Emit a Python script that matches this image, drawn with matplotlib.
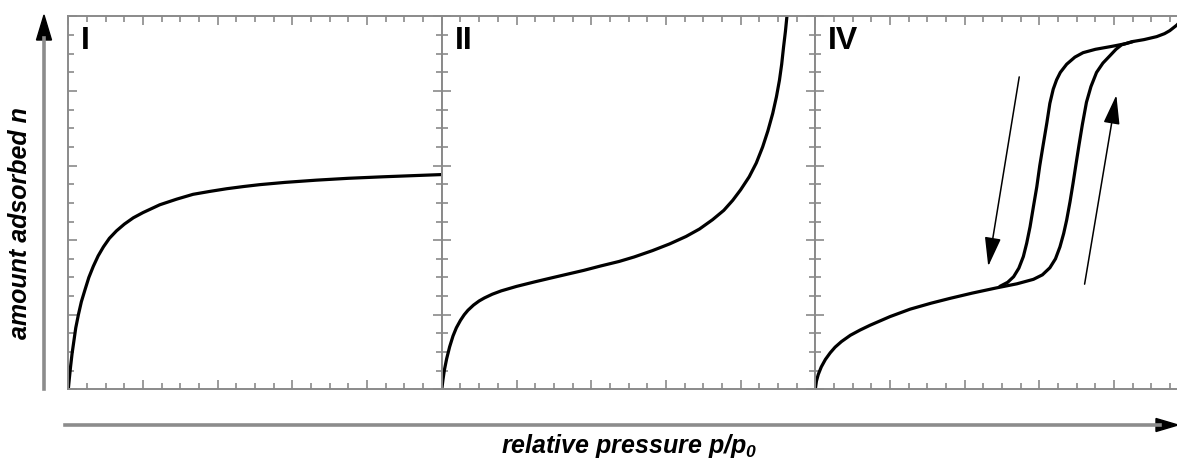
"""
Adsorption isotherm types I, II and IV, drawn side by side as three
framed panels sharing one big pressure arrow and one big amount arrow.
"""

import matplotlib.pyplot as plt
from matplotlib.lines import Line2D
from matplotlib.patches import Polygon
from matplotlib.ticker import MultipleLocator

plt.rcParams["font.family"] = ["Liberation Sans", "DejaVu Sans"]
plt.rcParams["mathtext.fontset"] = "custom"
plt.rcParams["mathtext.it"] = "Liberation Sans:bold:italic"
plt.rcParams["mathtext.rm"] = "Liberation Sans:bold:italic"
plt.rcParams["mathtext.bf"] = "Liberation Sans:bold:italic"

W, H = 1177, 461
C_FRAME = "#8a8a8a"
C_CURVE = "black"

# ---- data (p/p0, n scaled 0..1) ----
panel_names = ["I", "II", "IV"]

type1_p = [0.0, 0.003, 0.006, 0.010, 0.015, 0.020, 0.027, 0.035, 0.045,
           0.055, 0.067, 0.080, 0.094, 0.110, 0.129, 0.150, 0.174, 0.200,
           0.245, 0.290, 0.334, 0.380, 0.424, 0.470, 0.513, 0.580, 0.664,
           0.750, 0.842, 0.920, 1.0]
type1_n = [0.0, 0.031, 0.060, 0.095, 0.130, 0.165, 0.200, 0.235, 0.268,
           0.300, 0.330, 0.358, 0.382, 0.405, 0.425, 0.443, 0.460, 0.474,
           0.495, 0.510, 0.523, 0.531, 0.538, 0.544, 0.549, 0.555, 0.561,
           0.566, 0.570, 0.573, 0.576]

type2_p = [0.0, 0.003, 0.007, 0.013, 0.021, 0.030, 0.039, 0.050, 0.060,
           0.070, 0.085, 0.100, 0.114, 0.135, 0.159, 0.200, 0.248, 0.290,
           0.337, 0.380, 0.426, 0.475, 0.515, 0.564, 0.610, 0.654, 0.690,
           0.725, 0.755, 0.779, 0.800, 0.823, 0.842, 0.859, 0.873, 0.886,
           0.896, 0.904, 0.910, 0.915, 0.920, 0.924, 0.928]
type2_n = [0.0, 0.025, 0.052, 0.082, 0.114, 0.143, 0.165, 0.185, 0.200,
           0.212, 0.226, 0.237, 0.245, 0.255, 0.264, 0.276, 0.288, 0.298,
           0.309, 0.319, 0.331, 0.343, 0.355, 0.372, 0.390, 0.410, 0.430,
           0.455, 0.480, 0.507, 0.535, 0.570, 0.607, 0.650, 0.693, 0.740,
           0.785, 0.829, 0.872, 0.918, 0.960, 1.0, 1.04]

# type IV: adsorption branch (whole run, low to high pressure)
ads_p = [0.0, 0.003, 0.008, 0.016, 0.027, 0.040, 0.053, 0.070, 0.094,
         0.120, 0.147, 0.200, 0.254, 0.310, 0.361, 0.420, 0.485, 0.540,
         0.584, 0.608, 0.628, 0.643, 0.655, 0.665, 0.673, 0.682, 0.690,
         0.698, 0.706, 0.715, 0.726, 0.738, 0.753, 0.770, 0.789, 0.805,
         0.820, 0.851, 0.880, 0.914, 0.935, 0.949, 0.968, 0.985, 1.0]
ads_n = [0.0, 0.022, 0.040, 0.060, 0.080, 0.098, 0.113, 0.128, 0.145,
         0.159, 0.172, 0.195, 0.215, 0.231, 0.244, 0.258, 0.272, 0.283,
         0.295, 0.307, 0.326, 0.350, 0.382, 0.418, 0.454, 0.503, 0.552,
         0.604, 0.655, 0.710, 0.770, 0.812, 0.850, 0.875, 0.895, 0.912,
         0.924, 0.933, 0.938, 0.946, 0.954, 0.962, 0.977, 0.995, 1.02]
# type IV: desorption branch (from closure at top down to the lower branch)
des_p = [0.851, 0.830, 0.805, 0.789, 0.750, 0.717, 0.695, 0.673, 0.656,
         0.646, 0.637, 0.628, 0.620, 0.610, 0.601, 0.593, 0.584, 0.575,
         0.566, 0.557, 0.545, 0.531, 0.515, 0.494]
des_n = [0.933, 0.927, 0.922, 0.919, 0.912, 0.903, 0.891, 0.872, 0.850,
         0.830, 0.805, 0.767, 0.715, 0.655, 0.600, 0.543, 0.490, 0.436,
         0.392, 0.356, 0.325, 0.302, 0.287, 0.276]

# direction arrows in panel IV: (tail, tip)
des_arrow = [(0.546, 0.838), (0.463, 0.330)]
ads_arrow = [(0.721, 0.282), (0.806, 0.789)]


def px(x, y):
    """pixel (from top-left) -> figure fraction"""
    return x / W, 1 - y / H


def frame(ax):
    ax.set_xlim(0, 1)
    ax.set_ylim(0, 1)
    ax.xaxis.set_major_locator(MultipleLocator(0.2))
    ax.xaxis.set_minor_locator(MultipleLocator(0.05))
    ax.yaxis.set_major_locator(MultipleLocator(0.2))
    ax.yaxis.set_minor_locator(MultipleLocator(0.05))
    ax.tick_params(which="both", direction="in", top=True, right=True,
                   labelbottom=False, labelleft=False, color=C_FRAME, width=1.2)
    ax.tick_params(which="major", length=6.5)
    ax.tick_params(which="minor", length=4)
    for s in ax.spines.values():
        s.set_edgecolor(C_FRAME)
        s.set_linewidth(1.4)


fig = plt.figure(figsize=(W / 100, H / 100), dpi=100)

left0, top, bottom, pw = 68.3, 16.5, 389.3, 373.5
axes = []
for i, name in enumerate(panel_names):
    x0 = left0 + i * pw
    ax = fig.add_axes([x0 / W, 1 - bottom / H, pw / W, (bottom - top) / H])
    frame(ax)
    ax.text(0.035, 0.975, name, transform=ax.transAxes, ha="left", va="top",
            fontsize=23, fontweight="bold")
    axes.append(ax)

lw = 2.3
curve_kw = dict(color=C_CURVE, lw=lw, solid_capstyle="round", solid_joinstyle="round")
axes[0].plot(type1_p, type1_n, **curve_kw)
axes[1].plot(type2_p, type2_n, **curve_kw)
axes[2].plot(ads_p, ads_n, **curve_kw)
axes[2].plot(des_p, des_n, **curve_kw)

for tail, tip in (des_arrow, ads_arrow):
    axes[2].annotate("", xy=tip, xytext=tail,
                     arrowprops=dict(arrowstyle="-|>,head_length=1.0,head_width=0.28",
                                     color="black", lw=1.1, mutation_scale=18,
                                     shrinkA=0, shrinkB=0))

# big axis arrows: gray shaft, black head
shaft_kw = dict(color="#8c8c8c", lw=2.6, transform=fig.transFigure)
fig.add_artist(Line2D(*zip(px(44, 389), px(44, 38)), **shaft_kw))
fig.add_artist(Polygon([px(36.5, 40), px(51.5, 40), px(44, 15)], closed=True,
                       color="black", transform=fig.transFigure))
fig.add_artist(Line2D(*zip(px(65, 425), px(1160, 425)), **shaft_kw))
fig.add_artist(Polygon([px(1156, 418.5), px(1156, 431.5), px(1178, 425)], closed=True,
                       color="black", transform=fig.transFigure))

fig.text(*px(20, 223), "amount adsorbed n", rotation=90, ha="center", va="center",
         fontsize=18, fontweight="bold", fontstyle="italic")
fig.text(*px(629, 446), r"relative pressure $p/p_0$", ha="center", va="center",
         fontsize=18, fontweight="bold", fontstyle="italic")

fig.savefig("out.png", dpi=100)
